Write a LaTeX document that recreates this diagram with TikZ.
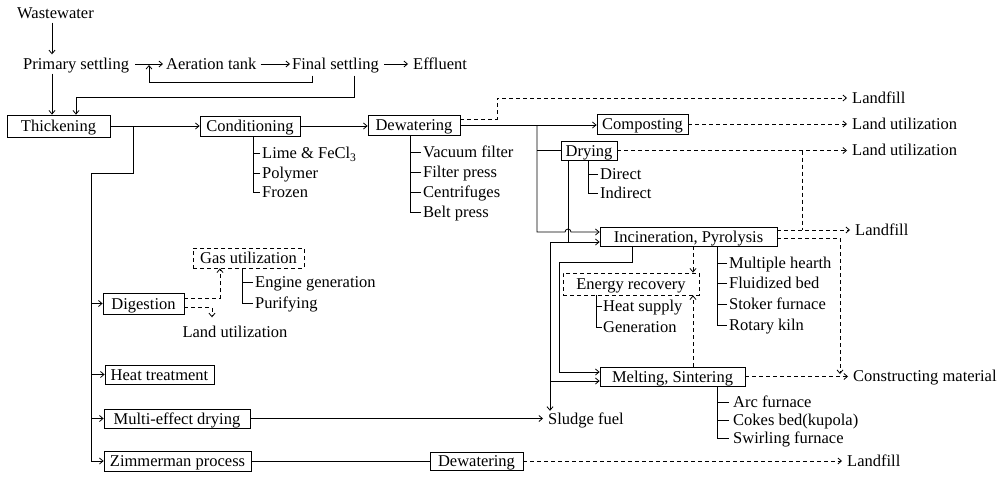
\documentclass[tikz,border=0pt]{standalone}
\usepackage{fontspec}
\setmainfont{Liberation Serif}
\usetikzlibrary{arrows.meta}
\begin{document}
\begin{tikzpicture}[x=1pt,y=-1pt,
  every node/.style={font=\fontsize{16.5}{19}\selectfont, inner sep=0pt, text height=11pt, text depth=0pt},
  box/.style={draw, line width=0.8pt},
  dbox/.style={draw, line width=0.8pt, dash pattern=on 4pt off 3pt},
  ln/.style={line width=0.8pt},
  dl/.style={line width=0.8pt, dash pattern=on 4pt off 3pt},
  lbl/.style={anchor=west},
  >={Straight Barb[length=3.5pt,width=6pt]},
]
\fill[white] (0,0) rectangle (1004,477);
\useasboundingbox (0,0) rectangle (1004,477);

% ---------- wastewater line ----------
\node[lbl] (ww)  at (17,13)  {Wastewater};
\node[lbl] (ps)  at (23,64)  {Primary settling};
\node[lbl] (aer) at (166,64) {Aeration tank};
\node[lbl] (fin) at (292,64) {Final settling};
\node[lbl] (eff) at (413,64) {Effluent};

% ---------- process boxes ----------
\node[box, minimum width=103pt, minimum height=22pt] (thick) at (58.5,126) {Thickening};
\node[box, minimum width=100pt, minimum height=20pt] (cond)  at (250,126)  {Conditioning};
\node[box, minimum width=92pt,  minimum height=20pt] (dewa)  at (414,125)  {Dewatering};
\node[box, minimum width=91pt,  minimum height=20pt] (comp)  at (642.5,124) {Composting};
\node[box, minimum width=56pt,  minimum height=19pt] (dry)   at (589,150.5) {Drying};
\node[box, minimum width=177pt, minimum height=19pt] (inc)   at (688.5,236.5) {Incineration, Pyrolysis};
\node[dbox,minimum width=136pt, minimum height=22pt] (enr)   at (631,284)  {Energy recovery};
\node[box, minimum width=145pt, minimum height=19pt] (melt)  at (672.5,376.5) {Melting, Sintering};
\node[dbox,minimum width=111pt, minimum height=20pt] (gas)   at (248.5,258) {Gas utilization};
\node[box, minimum width=81pt,  minimum height=21pt] (dig)   at (143.5,303.5) {Digestion};
\node[box, minimum width=109pt, minimum height=19pt] (heat)  at (159.5,374.5) {Heat treatment};
\node[box, minimum width=146pt, minimum height=19pt] (multi) at (177,418.5) {Multi-effect drying};
\node[box, minimum width=147pt, minimum height=20pt] (zim)   at (177.5,461) {Zimmerman process};
\node[box, minimum width=93pt,  minimum height=18pt] (dewb)  at (476.5,461) {Dewatering};

% ---------- end products ----------
\node[lbl] (lf1) at (852,98)  {Landfill};
\node[lbl] (lu1) at (852,124) {Land utilization};
\node[lbl] (lu2) at (852,150) {Land utilization};
\node[lbl] (lf2) at (855,230) {Landfill};
\node[lbl] (cm)  at (853,376) {Constructing material};
\node[lbl] (lf3) at (847,461) {Landfill};
\node[lbl] (sf)  at (548,418.5) {Sludge fuel};
\node (lu3) at (235,332) {Land utilization};

% ---------- option lists ----------
\coordinate (cv) at ([xshift=3pt]cond.south);
\node[lbl] (c1) at (262,153) {Lime \& FeCl\textsubscript{3}};
\node[lbl] (c2) at (262,173) {Polymer};
\node[lbl] (c3) at (262,192) {Frozen};
\draw[ln] (cv) |- ([xshift=-2pt]c3.west);
\foreach \n in {c1,c2} \draw[ln] ([xshift=-2pt]\n.west) -- (cv |- \n.west);

\coordinate (dv) at ([xshift=-4pt]dewa.south);
\node[lbl] (d1) at (423,152) {Vacuum filter};
\node[lbl] (d2) at (423,172) {Filter press};
\node[lbl] (d3) at (423,192) {Centrifuges};
\node[lbl] (d4) at (423,212) {Belt press};
\draw[ln] (dv) |- ([xshift=-2pt]d4.west);
\foreach \n in {d1,d2,d3} \draw[ln] ([xshift=-2pt]\n.west) -- (dv |- \n.west);

\coordinate (rv) at ([xshift=-1pt]dry.south);
\node[lbl] (r1) at (600,174) {Direct};
\node[lbl] (r2) at (600,193) {Indirect};
\draw[ln] (rv) |- ([xshift=-2pt]r2.west);
\draw[ln] ([xshift=-2pt]r1.west) -- (rv |- r1.west);

\coordinate (gv) at ([xshift=-6.5pt]gas.south);
\node[lbl] (g1) at (255,282) {Engine generation};
\node[lbl] (g2) at (255,303) {Purifying};
\draw[ln] (gv) |- ([xshift=-2pt]g2.west);
\draw[ln] ([xshift=-2pt]g1.west) -- (gv |- g1.west);

\coordinate (ev) at ([xshift=-35pt]enr.south);
\node[lbl] (e1) at (603,306) {Heat supply};
\node[lbl] (e2) at (603,327) {Generation};
\draw[ln] (ev) |- ([xshift=-1pt]e2.west);
\draw[ln] ([xshift=-1pt]e1.west) -- (ev |- e1.west);

\coordinate (iv) at ([xshift=28.5pt]inc.south);
\node[lbl] (i1) at (729,263) {Multiple hearth};
\node[lbl] (i2) at (729,283) {Fluidized bed};
\node[lbl] (i3) at (729,304) {Stoker furnace};
\node[lbl] (i4) at (729,325) {Rotary kiln};
\draw[ln] (iv) |- ([xshift=-2pt]i4.west);
\foreach \n in {i1,i2,i3} \draw[ln] ([xshift=-2pt]\n.west) -- (iv |- \n.west);

\coordinate (mv) at ([xshift=44.5pt]melt.south);
\node[lbl] (m1) at (733,402) {Arc furnace};
\node[lbl] (m2) at (733,420) {Cokes bed(kupola)};
\node[lbl] (m3) at (733,438) {Swirling furnace};
\draw[ln] (mv) |- ([xshift=-4pt]m3.west);
\foreach \n in {m1,m2} \draw[ln] ([xshift=-4pt]\n.west) -- (mv |- \n.west);

% ---------- bend points ----------
\coordinate (wx) at (52,0);
\coordinate (rt1) at (312,82);
\coordinate (rt2) at (149,82);
\coordinate (rt3) at (149,65);
\coordinate (fs1) at (354,97);
\coordinate (fs2) at (76,97);
\coordinate (tr1) at (133,173);
\coordinate (tr2) at (91,173);
\coordinate (bx) at (537,0);
\coordinate (hx) at (568,0);
\coordinate (lx) at (550,0);
\coordinate (mx) at (559,0);
\coordinate (inA) at ([yshift=4.5pt]inc.west);
\coordinate (inB) at ([yshift=-5.5pt]inc.west);
\coordinate (hp0) at (565,232);
\coordinate (mA) at ([yshift=4.5pt]melt.west);
\coordinate (mB) at ([yshift=-4.5pt]melt.west);
\coordinate (iq) at (632,262);
\coordinate (dk) at (497,0);
\coordinate (dA) at ([yshift=6pt]dewa.east);
\coordinate (vx) at (802,0);
\coordinate (iA) at ([yshift=6.5pt]inc.east);
\coordinate (iB) at ([yshift=-1.5pt]inc.east);
\coordinate (cx) at (840,0);
\coordinate (ex) at (693,0);
\coordinate (gx) at (220,0);
\coordinate (gA) at ([yshift=5pt]dig.east);
\coordinate (lx3) at (212,0);
\coordinate (gB) at ([yshift=-4pt]dig.east);

% ---------- sewage treatment ----------
\draw[ln,->,shorten <=4pt,shorten >=4pt] (ww.south -| wx) -- (ps.north -| wx);
\draw[ln,->,shorten <=6pt,shorten >=3pt] (ps.east) -- (aer.west);
\draw[ln,->,shorten <=4pt,shorten >=2pt] (aer.east) -- (fin.west);
\draw[ln,->,shorten <=5pt,shorten >=5pt] (fin.east) -- (eff.west);
\draw[ln,->,shorten <=6pt] (fin.south -| rt1) -- (rt1) -- (rt2) -- (rt3);
\draw[ln,->,shorten <=6pt] (fin.south -| fs1) -- (fs1) -- (fs2) -- (thick.north -| fs2);
\draw[ln,->,shorten <=4pt] (ps.south -| wx) -- (thick.north -| wx);

% ---------- main sludge line ----------
\draw[ln,->] (thick.east) -- (cond.west);
\draw[ln,->] (tr1 |- thick.east) -- (tr1) -- (tr2) |- (zim.west);
\draw[ln,->] (tr2 |- dig.west) -- (dig.west);
\draw[ln,->] (tr2 |- heat.west) -- (heat.west);
\draw[ln,->] (tr2 |- multi.west) -- (multi.west);
\draw[ln,->] (cond.east) -- (cond.east -| dewa.west);
\draw[ln,->] (dewa.east) -- (dewa.east -| comp.west);
\draw[ln] (bx |- dry.west) -- (dry.west);
\draw[ln,->] (dewa.east -| bx) -- (bx |- inA) -- (hp0)
  arc[start angle=180,end angle=0,radius=3pt] -- (inA);
\draw[ln,->] (dry.south -| hx) -- (hx |- inB) -- (inB);
\draw[ln,->,shorten >=2pt] (hx |- inB) -- (lx |- inB) -- (lx |- sf.north);
\draw[ln,->] (lx |- mB) -- (mB);
\draw[ln,->] (inc.south -| iq) -- (iq) -- (mx |- iq) -- (mx |- mA) -- (mA);
\draw[ln,->,shorten >=5pt] (multi.east) -- (multi.east -| sf.west);
\draw[ln] (zim.east) -- (dewb.west);

% ---------- utilization and disposal ----------
\draw[dl,->,shorten >=5pt] (dA) -- (dk |- dA) -- (dk |- lf1.west) -- (lf1.west);
\draw[dl,->,shorten >=5pt] (comp.east) -- (comp.east -| lu1.west);
\draw[dl,->,shorten >=5pt] (dry.east) -- (dry.east -| lu2.west);
\draw[dl] (dry.east -| vx) -- (vx |- lf2.west);
\draw[dl,->,shorten >=5pt] (iA) -- (iA -| lf2.west);
\draw[dl,->,shorten >=2pt] (iB) -- (cx |- iB) -- (cx |- cm.west);
\draw[dl,->,shorten >=5pt] (melt.east) -- (melt.east -| cm.west);
\draw[dl,->] (inc.south -| ex) -- (enr.north -| ex);
\draw[dl,->] (melt.north -| ex) -- (enr.south -| ex);
\draw[dl,->] (gA) -- (gx |- gA) -- (gx |- gas.south);
\draw[dl,->,shorten >=9pt] (gB) -- (lx3 |- gB) -- (lx3 |- lu3.north);
\draw[dl,->,shorten >=5pt] (dewb.east) -- (dewb.east -| lf3.west);
\end{tikzpicture}
\end{document}
